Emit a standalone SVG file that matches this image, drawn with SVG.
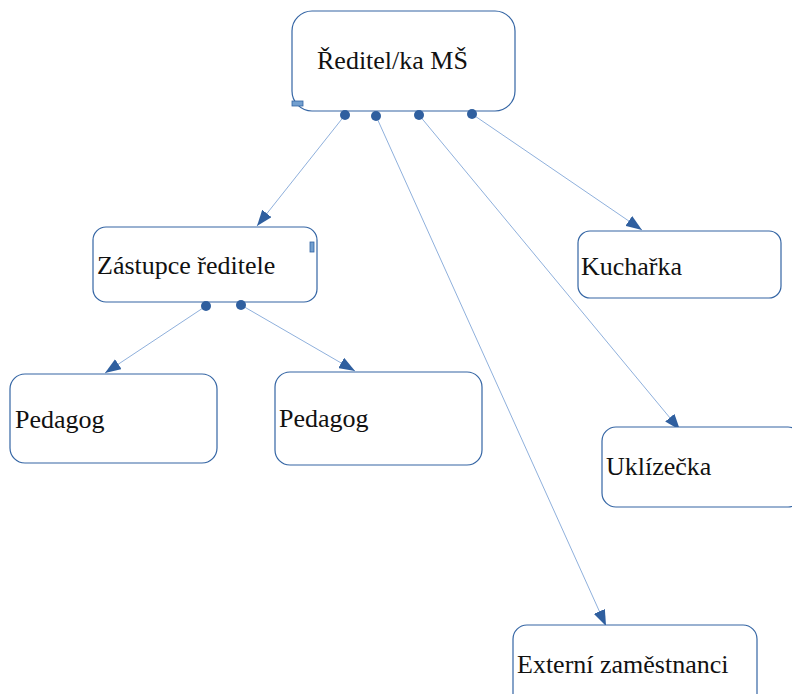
<svg xmlns="http://www.w3.org/2000/svg" width="792" height="694" viewBox="0 0 792 694">
<defs>
<style>
.box{fill:#ffffff;stroke:#3465a4;stroke-width:1.2}
.lbl{font-family:"Liberation Serif","Times New Roman",serif;font-size:26px;fill:#111111}
.con{stroke:#8fb0dc;stroke-width:1;fill:none}
.dot{fill:#2f5f9f}
</style>
<marker id="ah" viewBox="0 0 16 12" refX="16" refY="6" markerWidth="16" markerHeight="12" markerUnits="userSpaceOnUse" orient="auto">
<path d="M0,0 L16,6 L0,12 Z" fill="#2f5f9f"/>
</marker>
</defs>
<rect width="792" height="694" fill="#ffffff"/>
<g id="connectors">
<line class="con" x1="345" y1="115" x2="257" y2="226" marker-end="url(#ah)"/>
<line class="con" x1="376" y1="116" x2="606" y2="626" marker-end="url(#ah)"/>
<line class="con" x1="419" y1="115" x2="680" y2="430" marker-end="url(#ah)"/>
<line class="con" x1="472" y1="114" x2="642" y2="230" marker-end="url(#ah)"/>
<line class="con" x1="206" y1="306" x2="105" y2="373" marker-end="url(#ah)"/>
<line class="con" x1="241" y1="305" x2="355" y2="371" marker-end="url(#ah)"/>
</g>
<g id="n-reditel">
<rect class="box" x="292" y="11" width="223" height="100" rx="20"/>
<rect x="292" y="101" width="11" height="5" fill="#729fcf" stroke="#3465a4" stroke-width="0.8"/>
<text class="lbl" x="317" y="69">Ředitel/ka MŠ</text>
<circle class="dot" cx="345" cy="115" r="5"/>
<circle class="dot" cx="376" cy="116" r="5"/>
<circle class="dot" cx="419" cy="115" r="5"/>
<circle class="dot" cx="472" cy="114" r="5"/>
</g>
<g id="n-zastupce">
<rect class="box" x="93" y="227" width="224" height="75" rx="13"/>
<rect x="310" y="242" width="4" height="10" fill="#729fcf" stroke="#3465a4" stroke-width="0.8"/>
<text class="lbl" x="97" y="274">Zástupce ředitele</text>
<circle class="dot" cx="206" cy="306" r="5"/>
<circle class="dot" cx="241" cy="305" r="5"/>
</g>
<g id="n-pedagog1">
<rect class="box" x="10" y="374" width="207" height="89" rx="15"/>
<text class="lbl" x="15" y="428">Pedagog</text>
</g>
<g id="n-pedagog2">
<rect class="box" x="275" y="372" width="207" height="93" rx="15"/>
<text class="lbl" x="279" y="427">Pedagog</text>
</g>
<g id="n-kucharka">
<rect class="box" x="578" y="231" width="203" height="67" rx="12"/>
<text class="lbl" x="581" y="275">Kuchařka</text>
</g>
<g id="n-uklizecka">
<rect class="box" x="602" y="427" width="200" height="80" rx="14"/>
<text class="lbl" x="606" y="475">Uklízečka</text>
</g>
<g id="n-externi">
<rect class="box" x="513" y="625" width="244" height="90" rx="14"/>
<text class="lbl" x="517" y="673">Externí zaměstnanci</text>
</g>
</svg>
